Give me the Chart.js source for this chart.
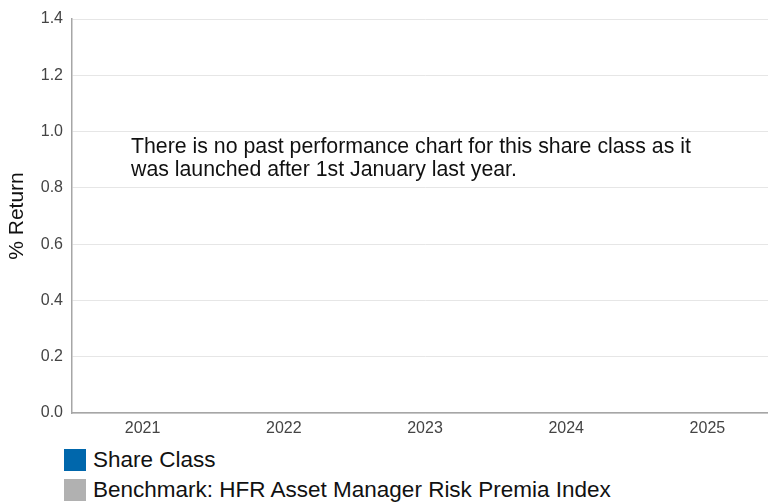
<!DOCTYPE html>
<html>
<head>
<meta charset="utf-8">
<script src="https://cdn.jsdelivr.net/npm/chart.js@4"></script>
<style>
  html, body { margin: 0; padding: 0; background: #fff; overflow: hidden; }
  body { width: 768px; height: 502px; position: relative; font-family: "Liberation Sans", Arial, sans-serif; }
  #wrap { position: absolute; left: 0; top: 0; width: 778px; height: 446px; }
  #legend { position: absolute; left: 64px; top: 449px; }
  .item { display: flex; align-items: center; height: 27px; font-size: 22.5px; color: #111; }
  .item:first-child { height: 22px; margin-bottom: 5px; }
  .swatch { width: 22px; height: 22px; margin-right: 7px; }
</style>
</head>
<body>
<div id="wrap"><canvas id="chart"></canvas></div>
<div id="legend"></div>
<script>
/* ---------- data ---------- */
const years = ["2021", "2022", "2023", "2024", "2025"];
const shareClass = [null, null, null, null, null];   // no data yet
const benchmark  = [null, null, null, null, null];
const seriesNames = ["Share Class", "Benchmark: HFR Asset Manager Risk Premia Index"];
const seriesColors = ["#0067ac", "#b1b1b1"];
const yTicks = [0, 0.2, 0.4, 0.6, 0.8, 1.0, 1.2, 1.4];
const noDataMsg = [
  "There is no past performance chart for this share class as it",
  "was launched after 1st January last year."
];

const FONT = '"Liberation Sans", Arial, sans-serif';

/* draws the "no data" message inside the plot area */
const messagePlugin = {
  id: 'msg',
  afterDraw(chart) {
    const { ctx, chartArea } = chart;
    ctx.save();
    ctx.font = '21.3px ' + FONT;
    ctx.fillStyle = '#111';
    ctx.textBaseline = 'middle';
    noDataMsg.forEach((line, i) => {
      ctx.fillText(line, chartArea.left + 59, 147 + i * 23);
    });
    ctx.restore();
  }
};

const chart = new Chart(document.getElementById('chart'), {
  type: 'bar',
  data: {
    labels: years,
    datasets: [
      { label: seriesNames[0], data: shareClass, backgroundColor: seriesColors[0] },
      { label: seriesNames[1], data: benchmark, backgroundColor: seriesColors[1] }
    ]
  },
  options: {
    responsive: true,
    maintainAspectRatio: false,
    animation: false,
    layout: { padding: { top: 19, left: 0, right: 0, bottom: 0 } },
    plugins: {
      legend: { display: false },
      tooltip: { enabled: false }
    },
    scales: {
      x: {
        grid: { display: false, drawTicks: false },
        border: { display: true, color: '#a6a6a6', width: 1.5 },
        ticks: { color: '#444', font: { family: FONT, size: 16 }, padding: 6 },
        afterFit(s) { s.height = 33; }
      },
      y: {
        min: 0,
        max: 1.4,
        afterBuildTicks(s) { s.ticks = yTicks.map(v => ({ value: v })); },
        grid: { color: '#e6e6e6', drawTicks: false },
        border: { display: true, color: '#a6a6a6', width: 1.5 },
        ticks: {
          color: '#444',
          font: { family: FONT, size: 16 },
          padding: 9,
          callback: v => v.toFixed(1)
        },
        title: {
          display: true,
          text: '% Return',
          color: '#111',
          font: { family: FONT, size: 21 },
          padding: { top: 5, bottom: 4 }
        },
        afterFit(s) { s.width = 72; }
      }
    }
  },
  plugins: [messagePlugin]
});

/* HTML legend built from the datasets */
const legendEl = document.getElementById('legend');
chart.data.datasets.forEach(ds => {
  const item = document.createElement('div');
  item.className = 'item';
  item.innerHTML = `<span class="swatch" style="background:${ds.backgroundColor}"></span><span>${ds.label}</span>`;
  legendEl.appendChild(item);
});
</script>
</body>
</html>
